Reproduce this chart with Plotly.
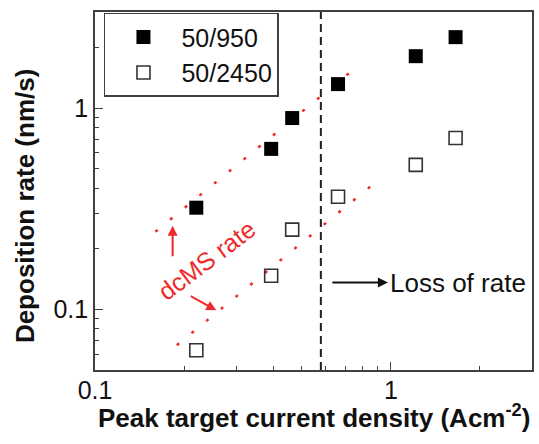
import numpy as np
import plotly.graph_objects as go

# ---- data ----
peak_current = [0.22, 0.394, 0.464, 0.663, 1.214, 1.655]
rate_50_950 = [0.32, 0.627, 0.892, 1.315, 1.81, 2.25]
rate_50_2450 = [0.0627, 0.147, 0.249, 0.3626, 0.522, 0.71]

dcms_upper_x = [0.160, 0.75]
dcms_upper_y = [0.243, 1.56]
dcms_lower_x = [0.189, 0.883]
dcms_lower_y = [0.0664, 0.425]

loss_x = 0.58
x_range = [0.1, 3.0]
y_range = [0.05, 3.0]

x_major = [0.1, 1]
y_major = [0.1, 1]
x_minor = [0.2, 0.3, 0.4, 0.5, 0.6, 0.7, 0.8, 0.9, 2, 3]
y_minor = [0.06, 0.07, 0.08, 0.09, 0.2, 0.3, 0.4, 0.5, 0.6, 0.7, 0.8, 0.9, 2]

x_title = "<b>Peak target current density (Acm<sup>-2</sup>)</b>"
y_title = "<b>Deposition rate (nm/s)</b>"

FONT = "Liberation Sans, Arial, sans-serif"
AX = "#404040"
RED = "#ee2a2a"
TXT = "#111111"

fig = go.Figure()

# dcMS guide lines
for gx, gy in [(dcms_upper_x, dcms_upper_y), (dcms_lower_x, dcms_lower_y)]:
    fig.add_trace(go.Scatter(x=gx, y=gy, mode="lines", showlegend=False,
                             line=dict(color=RED, width=2.5, dash="3px,16px"),
                             hoverinfo="skip"))

# Loss-of-rate dashed line
fig.add_trace(go.Scatter(x=[loss_x, loss_x], y=y_range, mode="lines", showlegend=False,
                         line=dict(color="#222222", width=2, dash="8px,5px"),
                         hoverinfo="skip"))

fig.add_trace(go.Scatter(x=peak_current, y=rate_50_950, mode="markers", name="50/950",
                         marker=dict(symbol="square", size=14, color="black",
                                     line=dict(width=0))))
fig.add_trace(go.Scatter(x=peak_current, y=rate_50_2450, mode="markers", name="50/2450",
                         marker=dict(symbol="square-open", size=13, color="#333333",
                                     line=dict(width=1.6))))

lx = np.log10
annotations = [
    # red vertical arrow
    dict(x=lx(0.183), y=lx(0.26), xref="x", yref="y", ax=0, ay=32,
         showarrow=True, arrowhead=2, arrowsize=1, arrowwidth=2, arrowcolor=RED, text=""),
    # red slanted arrow
    dict(x=lx(0.257), y=lx(0.0989), xref="x", yref="y", ax=-27, ay=-15,
         showarrow=True, arrowhead=2, arrowsize=1, arrowwidth=2, arrowcolor=RED, text=""),
    # dcMS rate label
    dict(x=lx(0.239), y=lx(0.175), xref="x", yref="y", text="dcMS rate",
         textangle=-37, showarrow=False, font=dict(family=FONT, size=25, color=RED)),
    # loss of rate arrow
    dict(x=lx(0.977), y=lx(0.136), xref="x", yref="y", ax=-57, ay=0,
         showarrow=True, arrowhead=2, arrowsize=1, arrowwidth=2, arrowcolor="#111111", text=""),
    dict(x=lx(0.98), y=lx(0.136), xref="x", yref="y", text="Loss of rate",
         xanchor="left", yanchor="middle", showarrow=False,
         font=dict(family=FONT, size=26, color=TXT)),
    # axis titles
    dict(x=0.501, y=-0.13, xref="paper", yref="paper", text=x_title,
         xanchor="center", yanchor="middle", showarrow=False,
         font=dict(family=FONT, size=26, color=TXT)),
    dict(x=-0.16, y=0.458, xref="paper", yref="paper", text=y_title, textangle=-90,
         xanchor="center", yanchor="middle", showarrow=False,
         font=dict(family=FONT, size=26, color=TXT)),
]

axis_common = dict(type="log", showgrid=False, zeroline=False, showline=True,
                   linecolor=AX, linewidth=1.6, mirror=True, ticks="inside",
                   ticklen=8, tickwidth=1.4, tickcolor=AX, tickmode="array",
                   tickfont=dict(family=FONT, size=25, color=TXT))

fig.update_layout(
    width=539, height=444,
    margin=dict(l=95, r=5, t=12, b=74),
    paper_bgcolor="white", plot_bgcolor="white",
    font=dict(family=FONT, color=TXT),
    xaxis=dict(**axis_common, range=[lx(x_range[0]), lx(x_range[1])],
               tickvals=x_major, ticktext=["0.1", "1"], ticklabelstandoff=-3,
               minor=dict(tickmode="array", tickvals=x_minor, ticks="inside",
                          ticklen=4, tickwidth=1.2, tickcolor=AX)),
    yaxis=dict(**axis_common, range=[lx(y_range[0]), lx(y_range[1])],
               tickvals=y_major, ticktext=["0.1", "1"],
               minor=dict(tickmode="array", tickvals=y_minor, ticks="inside",
                          ticklen=4, tickwidth=1.2, tickcolor=AX)),
    legend=dict(x=0.0205, y=0.998, xanchor="left", yanchor="top",
                bgcolor="white", bordercolor=AX, borderwidth=1.5,
                font=dict(family=FONT, size=25, color=TXT),
                itemwidth=66, tracegroupgap=0),
    annotations=annotations,
)

fig.write_html("out.html")
